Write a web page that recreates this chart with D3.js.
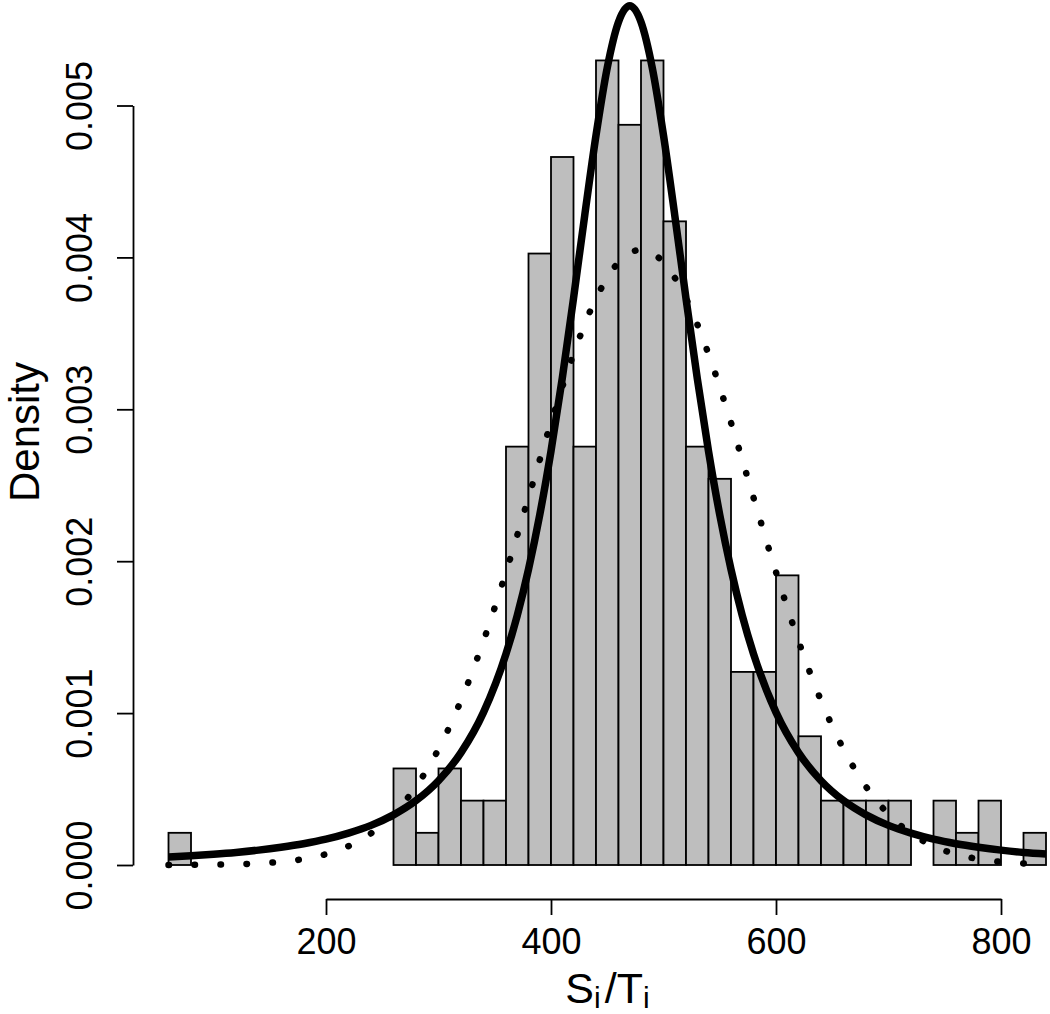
<!DOCTYPE html>
<html>
<head>
<meta charset="utf-8">
<script src="https://cdn.jsdelivr.net/npm/d3@7"></script>
<style>
  html, body { margin: 0; padding: 0; background: #fff; }
  svg { display: block; }
  text { font-family: "Liberation Sans", Arial, Helvetica, sans-serif; fill: #000; }
</style>
</head>
<body>
<svg id="chart" width="1050" height="1014"></svg>
<script>
// Histogram bins (left edges, width 20) and counts
const binStarts = [60,80,100,120,140,160,180,200,220,240,260,280,300,320,340,360,380,400,420,440,460,480,500,520,540,560,580,600,620,640,660,680,700,720,740,760,780,800,820];
const binCounts = [1,0,0,0,0,0,0,0,0,0,3,1,3,2,2,13,19,22,13,25,23,25,20,13,12,6,6,9,4,2,2,2,2,0,2,1,2,0,1];
const binWidth = 20;

// Solid fitted density
const solidX = [60,80,100,120,140,160,180,200,220,240,260,280,300,320,340,360,370,380,390,400,410,420,430,440,450,460,470,480,490,500,510,520,530,540,550,560,570,580,600,620,640,660,680,700,720,740,760,780,800,820,840];
const solidY = [0.000053,0.000061,0.000071,0.000083,0.000098,0.000117,0.000140,0.000170,0.000210,0.000261,0.000330,0.000424,0.000555,0.000740,0.001005,0.001390,0.001643,0.001946,0.002305,0.002725,0.003204,0.003730,0.004278,0.004803,0.005249,0.005550,0.005657,0.005550,0.005249,0.004803,0.004278,0.003730,0.003204,0.002725,0.002305,0.001946,0.001643,0.001390,0.001005,0.000740,0.000555,0.000424,0.000330,0.000261,0.000210,0.000170,0.000140,0.000117,0.000098,0.000083,0.000073];

// Dotted fitted density
const dottedX = [60,80,100,120,140,160,180,200,220,240,260,280,300,320,340,360,380,400,420,440,460,480,500,520,540,560,580,600,620,640,660,680,700,720,740,760,780,800,820,840];
const dottedY = [0.0000005,0.0000011,0.0000024,0.0000051,0.0000105,0.0000207,0.0000392,0.0000713,0.000124,0.000208,0.000334,0.000516,0.000763,0.001083,0.001475,0.001928,0.002419,0.002912,0.003364,0.003730,0.003967,0.004050,0.003967,0.003730,0.003364,0.002912,0.002419,0.001928,0.001475,0.001083,0.000763,0.000516,0.000334,0.000208,0.000124,0.0000713,0.0000392,0.0000207,0.0000105,0.0000051];

const xTicks = [200,400,600,800];
const yTicks = [0,0.001,0.002,0.003,0.004,0.005];

const svg = d3.select("#chart");
const x = d3.scaleLinear().domain([200, 800]).range([326, 1001]);
const y = d3.scaleLinear().domain([0, 0.005]).range([865, 105.5]);

const N = d3.sum(binCounts);

// Bars
svg.append("g").selectAll("rect")
  .data(binStarts.map((s, i) => ({s, d: binCounts[i] / (N * binWidth)})))
  .join("rect")
  .attr("x", d => x(d.s))
  .attr("width", d => x(d.s + binWidth) - x(d.s))
  .attr("y", d => y(d.d))
  .attr("height", d => y(0) - y(d.d))
  .attr("fill", "#bebebe")
  .attr("stroke", "#000")
  .attr("stroke-width", 1.8);

// Dotted curve
const line = d3.line().x(d => x(d[0])).y(d => y(d[1])).curve(d3.curveMonotoneX);
svg.append("path")
  .attr("d", line(dottedX.map((v, i) => [v, dottedY[i]])))
  .attr("fill", "none")
  .attr("stroke", "#000")
  .attr("stroke-width", 6.5)
  .attr("stroke-linecap", "round")
  .attr("stroke-dasharray", "0.5 25.5");

// Solid curve
svg.append("path")
  .attr("d", line(solidX.map((v, i) => [v, solidY[i]])))
  .attr("fill", "none")
  .attr("stroke", "#000")
  .attr("stroke-width", 7.5)
  .attr("stroke-linejoin", "round");

// X axis
const gx = svg.append("g")
  .attr("transform", "translate(0,899)")
  .call(d3.axisBottom(x).tickValues(xTicks).tickSize(16).tickSizeOuter(0).tickFormat(d3.format("d")));
gx.select(".domain").attr("stroke-width", 1.8);
gx.selectAll(".tick line").attr("stroke-width", 1.8);
gx.selectAll(".tick text")
  .attr("font-size", 36)
  .attr("font-family", "Liberation Sans, Arial, sans-serif")
  .attr("y", 55).attr("dy", 0);

// Y axis
const gy = svg.append("g")
  .attr("transform", "translate(133,0)")
  .call(d3.axisLeft(y).tickValues(yTicks).tickSize(16).tickSizeOuter(0).tickFormat(d3.format(".3f")));
gy.select(".domain").attr("stroke-width", 1.8);
gy.selectAll(".tick line").attr("stroke-width", 1.8);
gy.selectAll(".tick text")
  .attr("font-size", 36)
  .attr("font-family", "Liberation Sans, Arial, sans-serif")
  .attr("transform", "rotate(-90)")
  .attr("text-anchor", "middle")
  .attr("x", 0).attr("y", -41).attr("dy", 0);

// Y label
svg.append("text")
  .attr("transform", "translate(39,432) rotate(-90)")
  .attr("text-anchor", "middle")
  .attr("font-size", 42)
  .text("Density");

// X label S_i / T_i
const xl = svg.append("text")
  .attr("x", 607.5).attr("y", 1003)
  .attr("text-anchor", "middle")
  .attr("font-size", 43);
xl.append("tspan").text("S");
xl.append("tspan").attr("font-size", 30).attr("dy", 5).text("i");
xl.append("tspan").attr("dy", -5).attr("dx", 4).text("/");
xl.append("tspan").text("T");
xl.append("tspan").attr("font-size", 30).attr("dy", 5).text("i");
</script>
</body>
</html>
